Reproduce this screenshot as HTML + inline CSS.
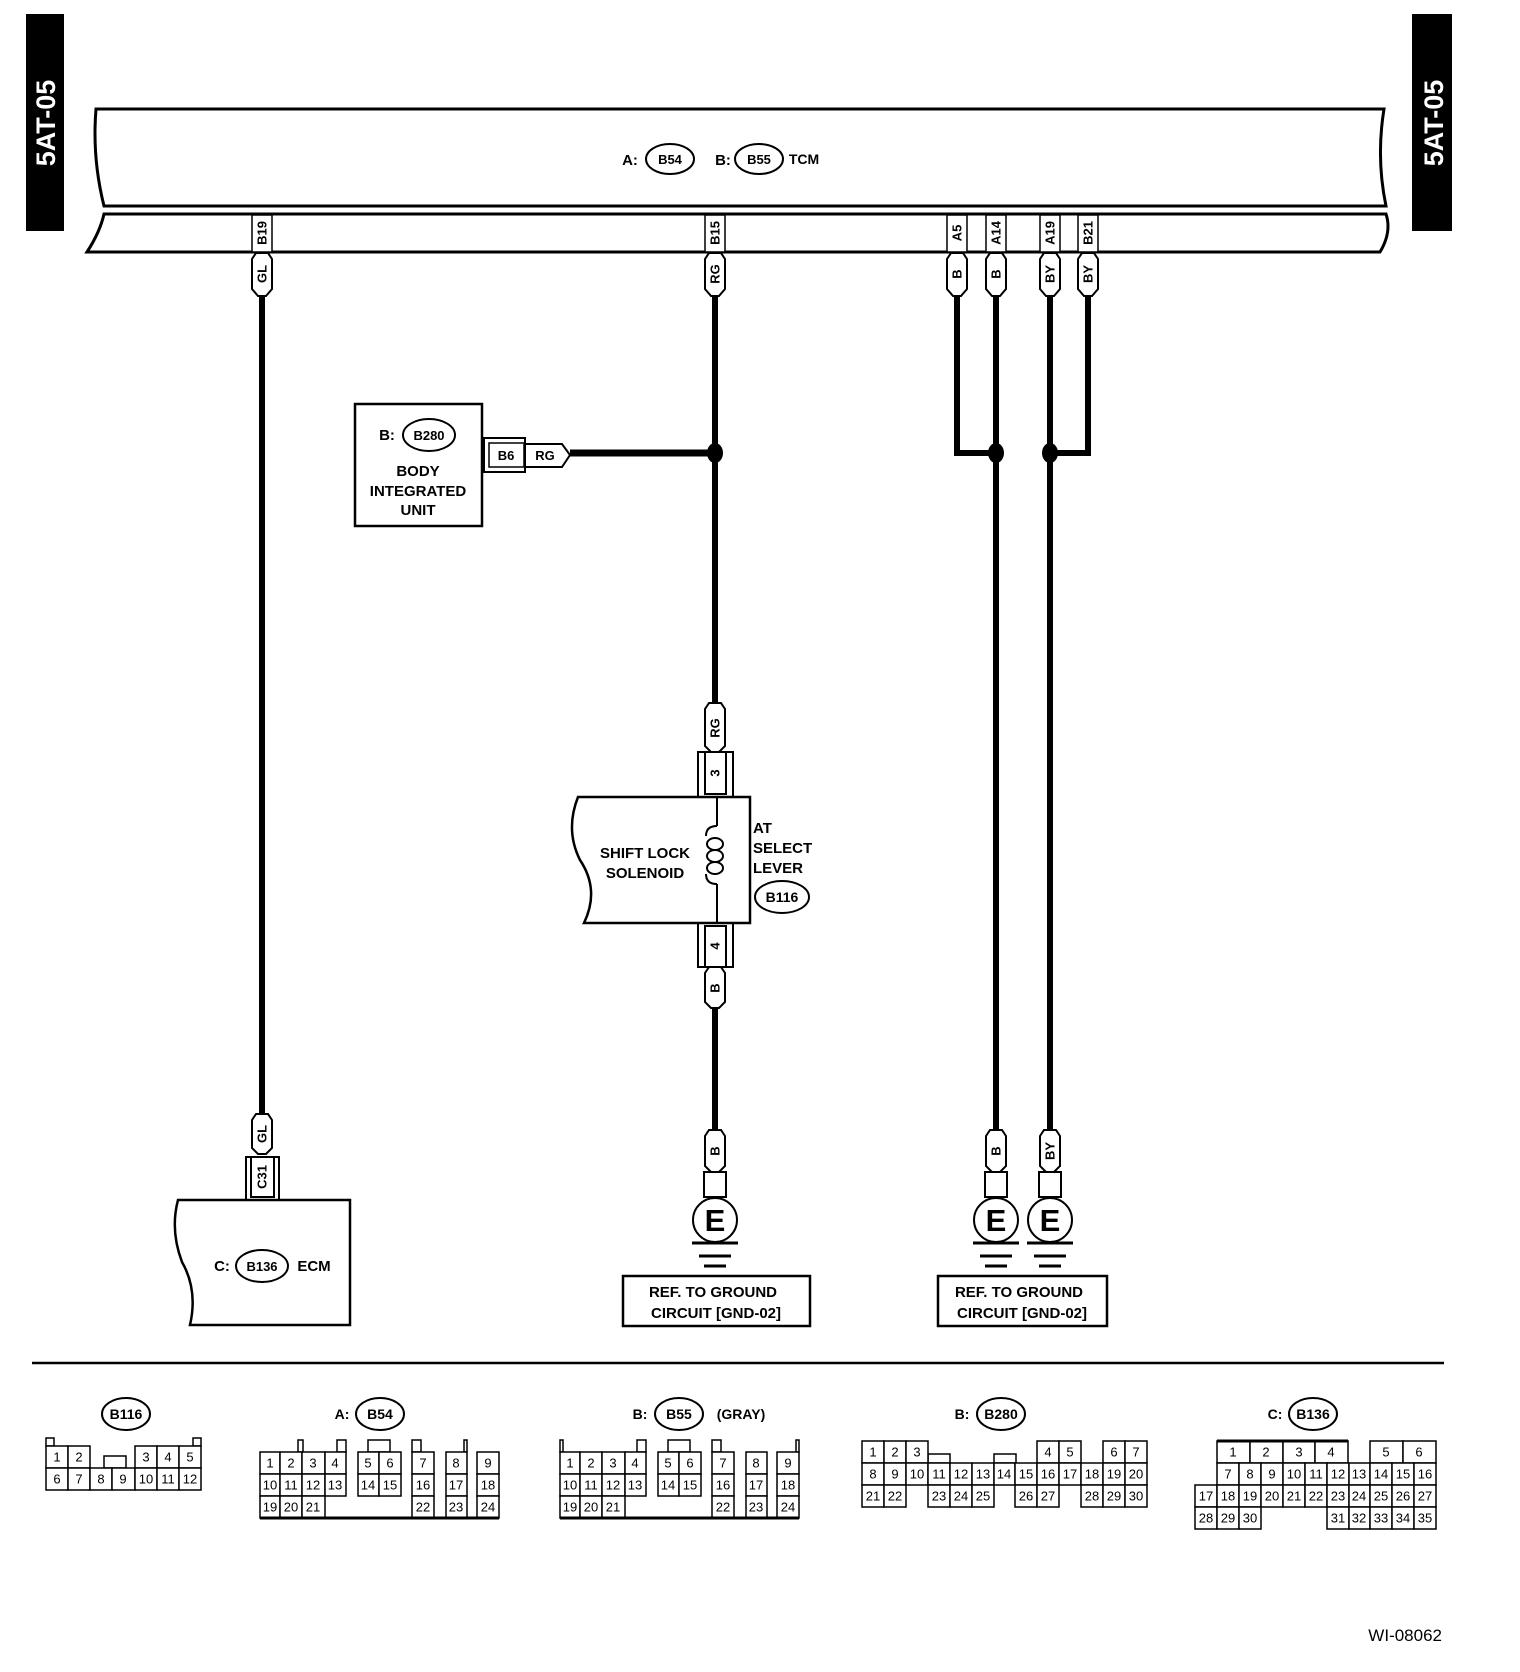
<!DOCTYPE html>
<html><head><meta charset="utf-8"><style>
html,body{margin:0;padding:0;background:#fff}
svg{display:block}
text{font-family:"Liberation Sans",sans-serif;font-weight:bold;fill:#000}
.c rect{fill:#fff;stroke:#000;stroke-width:1.5}
.c text{font-size:13px;font-weight:normal;text-anchor:middle;dominant-baseline:central}
.t{font-size:15px}
.w{stroke:#000;stroke-width:6;fill:none}
.tag{fill:#fff;stroke:#000;stroke-width:2}
.vt{font-size:13px;text-anchor:middle;dominant-baseline:central}
</style></head><body>
<svg width="1520" height="1672" viewBox="0 0 1520 1672" xmlns="http://www.w3.org/2000/svg">
<rect x="26" y="14" width="38" height="217" fill="#000"/>
<rect x="1412" y="14" width="40" height="217" fill="#000"/>
<text transform="translate(55,123) rotate(-90)" style="font-size:27px;fill:#fff;text-anchor:middle">5AT-05</text>
<text transform="translate(1443,123) rotate(-90)" style="font-size:27px;fill:#fff;text-anchor:middle">5AT-05</text>

<path d="M96,109 L1384,109 Q1376,158 1386,206 L104,206 Q92,158 96,109 Z" fill="#fff" stroke="#000" stroke-width="3"/>
<path d="M104,214 L1386,214 Q1392,232 1380,252 L87,252 Q100,232 104,214 Z" fill="#fff" stroke="#000" stroke-width="3"/>
<text x="630" y="165" class="t" text-anchor="middle">A:</text>
<ellipse cx="670" cy="159" rx="24" ry="15" fill="#fff" stroke="#000" stroke-width="2"/>
<text x="670" y="164" style="font-size:13px" text-anchor="middle">B54</text>
<text x="723" y="165" class="t" text-anchor="middle">B:</text>
<ellipse cx="759" cy="159" rx="24" ry="15" fill="#fff" stroke="#000" stroke-width="2"/>
<text x="759" y="164" style="font-size:13px" text-anchor="middle">B55</text>
<text x="804" y="164" style="font-size:14px" text-anchor="middle">TCM</text>

<g stroke="#000" stroke-width="1.5" fill="#fff">
<rect x="252" y="215" width="20" height="37"/>
<rect x="705" y="215" width="20" height="37"/>
<rect x="947" y="215" width="20" height="37"/>
<rect x="986" y="215" width="20" height="37"/>
<rect x="1040" y="215" width="20" height="37"/>
<rect x="1078" y="215" width="20" height="37"/>
</g>
<text class="vt" transform="translate(262,233) rotate(-90)">B19</text>
<text class="vt" transform="translate(715,233) rotate(-90)">B15</text>
<text class="vt" transform="translate(957,233) rotate(-90)">A5</text>
<text class="vt" transform="translate(996,233) rotate(-90)">A14</text>
<text class="vt" transform="translate(1050,233) rotate(-90)">A19</text>
<text class="vt" transform="translate(1088,233) rotate(-90)">B21</text>

<g class="w">
<line x1="262" y1="295" x2="262" y2="1114"/>
<line x1="715" y1="295" x2="715" y2="709"/>
<line x1="715" y1="1008" x2="715" y2="1130"/>
<polyline points="957,295 957,453 996,453"/>
<line x1="996" y1="295" x2="996" y2="1130"/>
<polyline points="1088,295 1088,453 1050,453"/>
<line x1="1050" y1="295" x2="1050" y2="1130"/>
<line x1="570" y1="453" x2="715" y2="453" stroke-width="7"/>
</g>
<ellipse cx="715" cy="453" rx="8" ry="10"/>
<ellipse cx="996" cy="453" rx="8" ry="10"/>
<ellipse cx="1050" cy="453" rx="8" ry="10"/>

<g class="tag">
<path d="M252,259 L256,253 L268,253 L272,259 L272,289 L266,296 L258,296 L252,289 Z"/>
<path d="M705,259 L709,253 L721,253 L725,259 L725,289 L719,296 L711,296 L705,289 Z"/>
<path d="M947,259 L951,253 L963,253 L967,259 L967,289 L961,296 L953,296 L947,289 Z"/>
<path d="M986,259 L990,253 L1002,253 L1006,259 L1006,289 L1000,296 L992,296 L986,289 Z"/>
<path d="M1040,259 L1044,253 L1056,253 L1060,259 L1060,289 L1054,296 L1046,296 L1040,289 Z"/>
<path d="M1078,259 L1082,253 L1094,253 L1098,259 L1098,289 L1092,296 L1084,296 L1078,289 Z"/>
</g>
<text class="vt" transform="translate(262,274) rotate(-90)">GL</text>
<text class="vt" transform="translate(715,274) rotate(-90)">RG</text>
<text class="vt" transform="translate(957,274) rotate(-90)">B</text>
<text class="vt" transform="translate(996,274) rotate(-90)">B</text>
<text class="vt" transform="translate(1050,274) rotate(-90)">BY</text>
<text class="vt" transform="translate(1088,274) rotate(-90)">BY</text>

<rect x="355" y="404" width="127" height="122" fill="#fff" stroke="#000" stroke-width="2.5"/>
<text x="387" y="440" class="t" text-anchor="middle">B:</text>
<ellipse cx="429" cy="435" rx="26" ry="16" fill="#fff" stroke="#000" stroke-width="2"/>
<text x="429" y="440" style="font-size:13px" text-anchor="middle">B280</text>
<text x="418" y="476" class="t" text-anchor="middle">BODY</text>
<text x="418" y="496" class="t" text-anchor="middle">INTEGRATED</text>
<text x="418" y="515" class="t" text-anchor="middle">UNIT</text>
<rect x="484" y="438" width="41" height="34" fill="#fff" stroke="#000" stroke-width="2"/>
<rect x="489" y="443" width="35" height="24" fill="#fff" stroke="#000" stroke-width="1.5"/>
<text x="506" y="460" style="font-size:13px" text-anchor="middle">B6</text>
<path d="M525,444 L562,444 L570,455 L562,467 L525,467 Z" class="tag"/>
<text x="545" y="460" style="font-size:13px" text-anchor="middle">RG</text>

<path d="M705,709 L709,703 L721,703 L725,709 L725,746 L719,752 L711,752 L705,746 Z" class="tag"/>
<text class="vt" transform="translate(715,728) rotate(-90)">RG</text>
<g stroke="#000" stroke-width="2" fill="#fff">
<rect x="698" y="752" width="35" height="45"/>
<rect x="705" y="752" width="21" height="42"/>
<rect x="698" y="923" width="35" height="44"/>
<rect x="705" y="926" width="21" height="41"/>
</g>
<text class="vt" transform="translate(715,773) rotate(-90)">3</text>
<text class="vt" transform="translate(715,946) rotate(-90)">4</text>
<path d="M578,797 L750,797 L750,923 L584,923 Q600,890 580,860 Q565,830 578,797 Z" fill="#fff" stroke="#000" stroke-width="2.5"/>
<line x1="717" y1="797" x2="717" y2="826" stroke="#000" stroke-width="2"/>
<line x1="717" y1="884" x2="717" y2="923" stroke="#000" stroke-width="2"/>
<g fill="none" stroke="#000" stroke-width="2">
<path d="M717,826 Q706,826 706,836"/>
<ellipse cx="715" cy="844" rx="8" ry="6"/>
<ellipse cx="715" cy="856" rx="8" ry="6"/>
<ellipse cx="715" cy="868" rx="8" ry="6"/>
<path d="M706,874 Q706,884 717,884"/>
</g>
<text x="645" y="858" class="t" text-anchor="middle">SHIFT LOCK</text>
<text x="645" y="878" class="t" text-anchor="middle">SOLENOID</text>
<text x="753" y="833" class="t">AT</text>
<text x="753" y="853" class="t">SELECT</text>
<text x="753" y="873" class="t">LEVER</text>
<ellipse cx="782" cy="897" rx="27" ry="16" fill="#fff" stroke="#000" stroke-width="2"/>
<text x="782" y="902" class="t" text-anchor="middle" style="font-size:14px">B116</text>
<path d="M705,973 L709,967 L721,967 L725,973 L725,1002 L719,1008 L711,1008 L705,1002 Z" class="tag"/>
<text class="vt" transform="translate(715,988) rotate(-90)">B</text>

<g class="tag">
<path d="M705,1136 L709,1130 L721,1130 L725,1136 L725,1166 L719,1172 L711,1172 L705,1166 Z"/>
<path d="M986,1136 L990,1130 L1002,1130 L1006,1136 L1006,1166 L1000,1172 L992,1172 L986,1166 Z"/>
<path d="M1040,1136 L1044,1130 L1056,1130 L1060,1136 L1060,1166 L1054,1172 L1046,1172 L1040,1166 Z"/>
<rect x="704" y="1172" width="22" height="25"/>
<rect x="985" y="1172" width="22" height="25"/>
<rect x="1039" y="1172" width="22" height="25"/>
<circle cx="715" cy="1220" r="22"/>
<circle cx="996" cy="1220" r="22"/>
<circle cx="1050" cy="1220" r="22"/>
</g>
<text class="vt" transform="translate(715,1151) rotate(-90)">B</text>
<text class="vt" transform="translate(996,1151) rotate(-90)">B</text>
<text class="vt" transform="translate(1050,1151) rotate(-90)">BY</text>
<text x="715" y="1231" style="font-size:31px" text-anchor="middle">E</text>
<text x="996" y="1231" style="font-size:31px" text-anchor="middle">E</text>
<text x="1050" y="1231" style="font-size:31px" text-anchor="middle">E</text>
<g stroke="#000" stroke-width="3">
<line x1="692" y1="1243" x2="738" y2="1243"/><line x1="699" y1="1256" x2="731" y2="1256"/><line x1="704" y1="1266" x2="726" y2="1266"/>
<line x1="973" y1="1243" x2="1019" y2="1243"/><line x1="980" y1="1256" x2="1012" y2="1256"/><line x1="985" y1="1266" x2="1007" y2="1266"/>
<line x1="1027" y1="1243" x2="1073" y2="1243"/><line x1="1034" y1="1256" x2="1066" y2="1256"/><line x1="1039" y1="1266" x2="1061" y2="1266"/>
</g>
<rect x="623" y="1276" width="187" height="50" fill="#fff" stroke="#000" stroke-width="2.5"/>
<text x="713" y="1297" class="t" text-anchor="middle">REF. TO GROUND</text>
<text x="716" y="1318" class="t" text-anchor="middle">CIRCUIT [GND-02]</text>
<rect x="938" y="1276" width="169" height="50" fill="#fff" stroke="#000" stroke-width="2.5"/>
<text x="1019" y="1297" class="t" text-anchor="middle">REF. TO GROUND</text>
<text x="1022" y="1318" class="t" text-anchor="middle">CIRCUIT [GND-02]</text>

<path d="M252,1120 L256,1114 L268,1114 L272,1120 L272,1148 L266,1154 L258,1154 L252,1148 Z" class="tag"/>
<text class="vt" transform="translate(262,1134) rotate(-90)">GL</text>
<g stroke="#000" stroke-width="2" fill="#fff">
<rect x="246" y="1157" width="33" height="43"/>
<rect x="251" y="1157" width="23" height="40"/>
</g>
<text class="vt" transform="translate(262,1177) rotate(-90)">C31</text>
<path d="M178,1200 L350,1200 L350,1325 L190,1325 Q198,1290 182,1262 Q170,1230 178,1200 Z" fill="#fff" stroke="#000" stroke-width="2.5"/>
<text x="222" y="1271" class="t" text-anchor="middle">C:</text>
<ellipse cx="262" cy="1266" rx="26" ry="16" fill="#fff" stroke="#000" stroke-width="2"/>
<text x="262" y="1271" style="font-size:13px" text-anchor="middle">B136</text>
<text x="314" y="1271" class="t" text-anchor="middle">ECM</text>

<line x1="32" y1="1363" x2="1444" y2="1363" stroke="#000" stroke-width="2.5"/>

<g fill="#fff" stroke="#000" stroke-width="2">
<ellipse cx="126" cy="1414" rx="24" ry="16"/>
<ellipse cx="380" cy="1414" rx="24" ry="16"/>
<ellipse cx="679" cy="1414" rx="24" ry="16"/>
<ellipse cx="1001" cy="1414" rx="24" ry="16"/>
<ellipse cx="1313" cy="1414" rx="24" ry="16"/>
</g>
<g style="font-size:14px" text-anchor="middle">
<text x="126" y="1419">B116</text>
<text x="342" y="1419">A:</text><text x="380" y="1419">B54</text>
<text x="640" y="1419">B:</text><text x="679" y="1419">B55</text><text x="741" y="1419">(GRAY)</text>
<text x="962" y="1419">B:</text><text x="1001" y="1419">B280</text>
<text x="1275" y="1419">C:</text><text x="1313" y="1419">B136</text>
</g>

<g class="c">
<rect x="46" y="1438" width="8" height="8"/><rect x="193" y="1438" width="8" height="8"/><rect x="104" y="1456" width="22" height="12"/>
<rect x="46" y="1446" width="22" height="22"/><text x="57" y="1457">1</text>
<rect x="68" y="1446" width="22" height="22"/><text x="79" y="1457">2</text>
<rect x="135" y="1446" width="22" height="22"/><text x="146" y="1457">3</text>
<rect x="157" y="1446" width="22" height="22"/><text x="168" y="1457">4</text>
<rect x="179" y="1446" width="22" height="22"/><text x="190" y="1457">5</text>
<rect x="46" y="1468" width="22" height="22"/><text x="57" y="1479">6</text>
<rect x="68" y="1468" width="22" height="22"/><text x="79" y="1479">7</text>
<rect x="90" y="1468" width="22" height="22"/><text x="101" y="1479">8</text>
<rect x="112" y="1468" width="23" height="22"/><text x="123" y="1479">9</text>
<rect x="135" y="1468" width="22" height="22"/><text x="146" y="1479">10</text>
<rect x="157" y="1468" width="22" height="22"/><text x="168" y="1479">11</text>
<rect x="179" y="1468" width="22" height="22"/><text x="190" y="1479">12</text>
</g>

<g class="c">
<rect x="298" y="1440" width="5" height="12"/><rect x="337" y="1440" width="9" height="12"/><rect x="368" y="1440" width="22" height="12"/><rect x="412" y="1440" width="9" height="12"/><rect x="464" y="1440" width="3" height="12"/>
<rect x="260" y="1452" width="20" height="22"/><text x="270" y="1463">1</text>
<rect x="280" y="1452" width="22" height="22"/><text x="291" y="1463">2</text>
<rect x="302" y="1452" width="23" height="22"/><text x="313" y="1463">3</text>
<rect x="325" y="1452" width="21" height="22"/><text x="335" y="1463">4</text>
<rect x="358" y="1452" width="21" height="22"/><text x="368" y="1463">5</text>
<rect x="379" y="1452" width="22" height="22"/><text x="390" y="1463">6</text>
<rect x="412" y="1452" width="22" height="22"/><text x="423" y="1463">7</text>
<rect x="446" y="1452" width="21" height="22"/><text x="456" y="1463">8</text>
<rect x="477" y="1452" width="22" height="22"/><text x="488" y="1463">9</text>
<rect x="260" y="1474" width="20" height="22"/><text x="270" y="1485">10</text>
<rect x="280" y="1474" width="22" height="22"/><text x="291" y="1485">11</text>
<rect x="302" y="1474" width="23" height="22"/><text x="313" y="1485">12</text>
<rect x="325" y="1474" width="21" height="22"/><text x="335" y="1485">13</text>
<rect x="358" y="1474" width="21" height="22"/><text x="368" y="1485">14</text>
<rect x="379" y="1474" width="22" height="22"/><text x="390" y="1485">15</text>
<rect x="412" y="1474" width="22" height="22"/><text x="423" y="1485">16</text>
<rect x="446" y="1474" width="21" height="22"/><text x="456" y="1485">17</text>
<rect x="477" y="1474" width="22" height="22"/><text x="488" y="1485">18</text>
<rect x="260" y="1496" width="20" height="22"/><text x="270" y="1507">19</text>
<rect x="280" y="1496" width="22" height="22"/><text x="291" y="1507">20</text>
<rect x="302" y="1496" width="23" height="22"/><text x="313" y="1507">21</text>
<rect x="412" y="1496" width="22" height="22"/><text x="423" y="1507">22</text>
<rect x="446" y="1496" width="21" height="22"/><text x="456" y="1507">23</text>
<rect x="477" y="1496" width="22" height="22"/><text x="488" y="1507">24</text>
</g>
<line x1="260" y1="1518" x2="499" y2="1518" stroke="#000" stroke-width="3"/>

<g class="c">
<rect x="560" y="1440" width="3" height="12"/><rect x="637" y="1440" width="9" height="12"/><rect x="668" y="1440" width="22" height="12"/><rect x="712" y="1440" width="9" height="12"/><rect x="796" y="1440" width="3" height="12"/>
<rect x="560" y="1452" width="20" height="22"/><text x="570" y="1463">1</text>
<rect x="580" y="1452" width="22" height="22"/><text x="591" y="1463">2</text>
<rect x="602" y="1452" width="23" height="22"/><text x="613" y="1463">3</text>
<rect x="625" y="1452" width="21" height="22"/><text x="635" y="1463">4</text>
<rect x="658" y="1452" width="21" height="22"/><text x="668" y="1463">5</text>
<rect x="679" y="1452" width="22" height="22"/><text x="690" y="1463">6</text>
<rect x="712" y="1452" width="22" height="22"/><text x="723" y="1463">7</text>
<rect x="746" y="1452" width="21" height="22"/><text x="756" y="1463">8</text>
<rect x="777" y="1452" width="22" height="22"/><text x="788" y="1463">9</text>
<rect x="560" y="1474" width="20" height="22"/><text x="570" y="1485">10</text>
<rect x="580" y="1474" width="22" height="22"/><text x="591" y="1485">11</text>
<rect x="602" y="1474" width="23" height="22"/><text x="613" y="1485">12</text>
<rect x="625" y="1474" width="21" height="22"/><text x="635" y="1485">13</text>
<rect x="658" y="1474" width="21" height="22"/><text x="668" y="1485">14</text>
<rect x="679" y="1474" width="22" height="22"/><text x="690" y="1485">15</text>
<rect x="712" y="1474" width="22" height="22"/><text x="723" y="1485">16</text>
<rect x="746" y="1474" width="21" height="22"/><text x="756" y="1485">17</text>
<rect x="777" y="1474" width="22" height="22"/><text x="788" y="1485">18</text>
<rect x="560" y="1496" width="20" height="22"/><text x="570" y="1507">19</text>
<rect x="580" y="1496" width="22" height="22"/><text x="591" y="1507">20</text>
<rect x="602" y="1496" width="23" height="22"/><text x="613" y="1507">21</text>
<rect x="712" y="1496" width="22" height="22"/><text x="723" y="1507">22</text>
<rect x="746" y="1496" width="21" height="22"/><text x="756" y="1507">23</text>
<rect x="777" y="1496" width="22" height="22"/><text x="788" y="1507">24</text>
</g>
<line x1="560" y1="1518" x2="799" y2="1518" stroke="#000" stroke-width="3"/>

<g class="c">
<rect x="928" y="1454" width="22" height="9"/><rect x="994" y="1454" width="22" height="9"/>
<rect x="862" y="1441" width="22" height="22"/><text x="873" y="1452">1</text>
<rect x="884" y="1441" width="22" height="22"/><text x="895" y="1452">2</text>
<rect x="906" y="1441" width="22" height="22"/><text x="917" y="1452">3</text>
<rect x="1037" y="1441" width="22" height="22"/><text x="1048" y="1452">4</text>
<rect x="1059" y="1441" width="22" height="22"/><text x="1070" y="1452">5</text>
<rect x="1103" y="1441" width="22" height="22"/><text x="1114" y="1452">6</text>
<rect x="1125" y="1441" width="22" height="22"/><text x="1136" y="1452">7</text>
<rect x="862" y="1463" width="22" height="22"/><text x="873" y="1474">8</text>
<rect x="884" y="1463" width="22" height="22"/><text x="895" y="1474">9</text>
<rect x="906" y="1463" width="22" height="22"/><text x="917" y="1474">10</text>
<rect x="928" y="1463" width="22" height="22"/><text x="939" y="1474">11</text>
<rect x="950" y="1463" width="22" height="22"/><text x="961" y="1474">12</text>
<rect x="972" y="1463" width="22" height="22"/><text x="983" y="1474">13</text>
<rect x="994" y="1463" width="21" height="22"/><text x="1004" y="1474">14</text>
<rect x="1015" y="1463" width="22" height="22"/><text x="1026" y="1474">15</text>
<rect x="1037" y="1463" width="22" height="22"/><text x="1048" y="1474">16</text>
<rect x="1059" y="1463" width="22" height="22"/><text x="1070" y="1474">17</text>
<rect x="1081" y="1463" width="22" height="22"/><text x="1092" y="1474">18</text>
<rect x="1103" y="1463" width="22" height="22"/><text x="1114" y="1474">19</text>
<rect x="1125" y="1463" width="22" height="22"/><text x="1136" y="1474">20</text>
<rect x="862" y="1485" width="22" height="22"/><text x="873" y="1496">21</text>
<rect x="884" y="1485" width="22" height="22"/><text x="895" y="1496">22</text>
<rect x="928" y="1485" width="22" height="22"/><text x="939" y="1496">23</text>
<rect x="950" y="1485" width="22" height="22"/><text x="961" y="1496">24</text>
<rect x="972" y="1485" width="22" height="22"/><text x="983" y="1496">25</text>
<rect x="1015" y="1485" width="22" height="22"/><text x="1026" y="1496">26</text>
<rect x="1037" y="1485" width="22" height="22"/><text x="1048" y="1496">27</text>
<rect x="1081" y="1485" width="22" height="22"/><text x="1092" y="1496">28</text>
<rect x="1103" y="1485" width="22" height="22"/><text x="1114" y="1496">29</text>
<rect x="1125" y="1485" width="22" height="22"/><text x="1136" y="1496">30</text>
</g>

<g class="c">
<rect x="1217" y="1441" width="33" height="22"/><text x="1233" y="1452">1</text>
<rect x="1250" y="1441" width="33" height="22"/><text x="1266" y="1452">2</text>
<rect x="1283" y="1441" width="32" height="22"/><text x="1299" y="1452">3</text>
<rect x="1315" y="1441" width="33" height="22"/><text x="1331" y="1452">4</text>
<rect x="1370" y="1441" width="33" height="22"/><text x="1386" y="1452">5</text>
<rect x="1403" y="1441" width="33" height="22"/><text x="1419" y="1452">6</text>
<rect x="1217" y="1463" width="22" height="22"/><text x="1228" y="1474">7</text>
<rect x="1239" y="1463" width="22" height="22"/><text x="1250" y="1474">8</text>
<rect x="1261" y="1463" width="22" height="22"/><text x="1272" y="1474">9</text>
<rect x="1283" y="1463" width="22" height="22"/><text x="1294" y="1474">10</text>
<rect x="1305" y="1463" width="22" height="22"/><text x="1316" y="1474">11</text>
<rect x="1327" y="1463" width="22" height="22"/><text x="1338" y="1474">12</text>
<rect x="1349" y="1463" width="21" height="22"/><text x="1359" y="1474">13</text>
<rect x="1370" y="1463" width="22" height="22"/><text x="1381" y="1474">14</text>
<rect x="1392" y="1463" width="22" height="22"/><text x="1403" y="1474">15</text>
<rect x="1414" y="1463" width="22" height="22"/><text x="1425" y="1474">16</text>
<rect x="1195" y="1485" width="22" height="22"/><text x="1206" y="1496">17</text>
<rect x="1217" y="1485" width="22" height="22"/><text x="1228" y="1496">18</text>
<rect x="1239" y="1485" width="22" height="22"/><text x="1250" y="1496">19</text>
<rect x="1261" y="1485" width="22" height="22"/><text x="1272" y="1496">20</text>
<rect x="1283" y="1485" width="22" height="22"/><text x="1294" y="1496">21</text>
<rect x="1305" y="1485" width="22" height="22"/><text x="1316" y="1496">22</text>
<rect x="1327" y="1485" width="22" height="22"/><text x="1338" y="1496">23</text>
<rect x="1349" y="1485" width="21" height="22"/><text x="1359" y="1496">24</text>
<rect x="1370" y="1485" width="22" height="22"/><text x="1381" y="1496">25</text>
<rect x="1392" y="1485" width="22" height="22"/><text x="1403" y="1496">26</text>
<rect x="1414" y="1485" width="22" height="22"/><text x="1425" y="1496">27</text>
<rect x="1195" y="1507" width="22" height="22"/><text x="1206" y="1518">28</text>
<rect x="1217" y="1507" width="22" height="22"/><text x="1228" y="1518">29</text>
<rect x="1239" y="1507" width="22" height="22"/><text x="1250" y="1518">30</text>
<rect x="1327" y="1507" width="22" height="22"/><text x="1338" y="1518">31</text>
<rect x="1349" y="1507" width="21" height="22"/><text x="1359" y="1518">32</text>
<rect x="1370" y="1507" width="22" height="22"/><text x="1381" y="1518">33</text>
<rect x="1392" y="1507" width="22" height="22"/><text x="1403" y="1518">34</text>
<rect x="1414" y="1507" width="22" height="22"/><text x="1425" y="1518">35</text>
</g>
<line x1="1217" y1="1441" x2="1348" y2="1441" stroke="#000" stroke-width="3"/>

<text x="1442" y="1641" style="font-size:17px;font-weight:normal" text-anchor="end">WI-08062</text>
</svg>
</body></html>
